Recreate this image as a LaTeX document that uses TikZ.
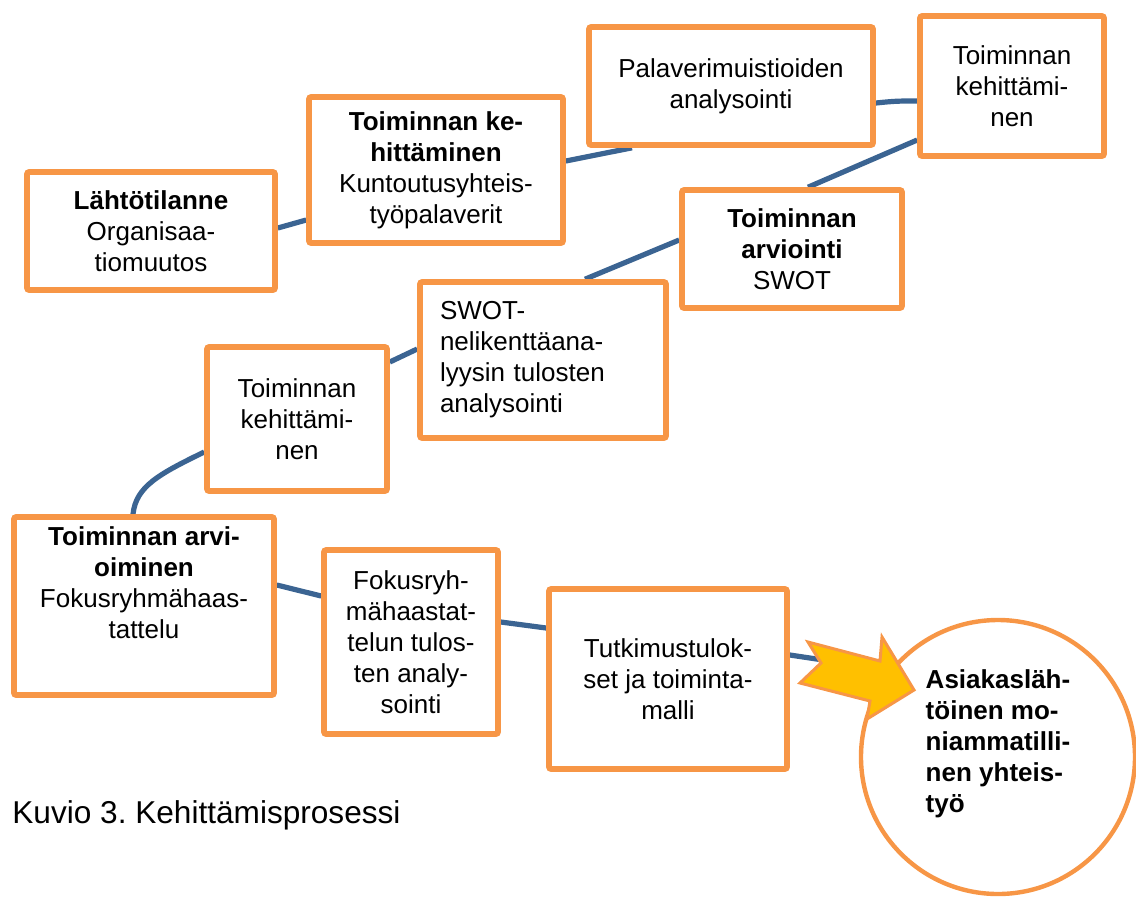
\documentclass[tikz,border=0pt]{standalone}
\usepackage{fontspec}
\setmainfont{Liberation Sans}
\usetikzlibrary{positioning,calc,backgrounds}
\definecolor{boxorange}{HTML}{F79646}
\definecolor{flowblue}{HTML}{3B6492}
\definecolor{arrowgold}{HTML}{FFC000}
\tikzset{STEP/.style={rectangle, draw=boxorange, line width=2.8pt, fill=white, rounded corners=1pt, align=center, inner sep=0pt, font=\fontsize{13}{15.5}\selectfont}}
\tikzset{FLOW/.style={draw=flowblue, line width=2.6pt}}
\tikzset{GOAL/.style={circle, draw=boxorange, line width=2.2pt, fill=white, inner sep=0pt, minimum size=137pt}}

\begin{document}
\begin{tikzpicture}[x=0.5pt, y=-0.5pt]
    \useasboundingbox (0,0) rectangle (1136,896);

    \node[STEP, minimum width=124pt, minimum height=59pt] (n_start) at (151,231) {
        \textbf{Lähtötilanne}\\ Organisaa-\\ tiomuutos
    };
    \node[STEP, minimum width=127pt, minimum height=73pt] (n_dev1) at (436,170) {
        \textbf{Toiminnan ke-}\\ \textbf{hittäminen}\\ Kuntoutusyhteis-\\ työpalaverit
    };
    \node[STEP, minimum width=142pt, minimum height=59pt] (n_memo) at (731,86) {
        Palaverimuistioiden\\ analysointi
    };
    \node[STEP, minimum width=92pt, minimum height=70pt] (n_dev2) at (1012,86) {
        Toiminnan\\ kehittämi-\\ nen
    };
    \node[STEP, minimum width=110pt, minimum height=59pt] (n_eval1) at (792,249) {
        \textbf{Toiminnan}\\ \textbf{arviointi}\\ SWOT
    };
    \node[STEP, minimum width=123pt, minimum height=78pt, text width=103pt, align=left] (n_swot) at (543,360) {
        SWOT-\\ nelikenttäana-\\ lyysin tulosten\\ analysointi
    };
    \node[STEP, minimum width=90pt, minimum height=72pt] (n_dev3) at (297,419) {
        Toiminnan\\ kehittämi-\\ nen
    };
    \node[STEP, minimum width=130pt, minimum height=89pt] (n_eval2) at (144,606) {
        \textbf{Toiminnan arvi-}\\ \textbf{oiminen}\\ Fokusryhmähaas-\\ tattelu\\[8pt]
    };
    \node[STEP, minimum width=87pt, minimum height=92pt] (n_focus) at (411,642) {
        Fokusryh-\\ mähaastat-\\ telun tulos-\\ ten analy-\\ sointi
    };
    \node[STEP, minimum width=119pt, minimum height=90pt] (n_result) at (668,679) {
        Tutkimustulok-\\ set ja toiminta-\\ malli
    };

    \node[GOAL] (n_goal) at (998,757) {};
    \node[align=left, inner sep=0pt, font=\fontsize{13}{15.5}\selectfont\bfseries] (n_goaltext) at ($(n_goal)+(0,-13)$) {
        Asiakasläh-\\ töinen mo-\\ niammatilli-\\ nen yhteis-\\ työ
    };

    % notched arrow into the goal
    \draw[fill=arrowgold, draw=boxorange, line width=1.5pt] (808,642) -- (880,661) -- (882,637) -- (914,690) -- (867,719) -- (870,701) -- (800,683) -- (821,663) -- cycle;
    \coordinate (n_arrowtail) at (830,661);

    \begin{scope}[on background layer]
        \draw[FLOW] ($(n_start.east)+(0,-3)$) -- ($(n_dev1.west)+(0,50)$);
        \draw[FLOW] ($(n_dev1.east)+(0,-9)$) -- ($(n_memo.south)+(-99,0)$);
        \draw[FLOW] ($(n_memo.east)+(0,17)$) .. controls +(20,-2) and +(-20,0) .. ($(n_dev2.west)+(0,15)$);
        \draw[FLOW] ($(n_dev2.west)+(0,54)$) -- ($(n_eval1.north)+(16,0)$);
        \draw[FLOW] ($(n_eval1.west)+(0,-9)$) -- ($(n_swot.north)+(42,0)$);
        \draw[FLOW] ($(n_swot.west)+(0,-11)$) -- ($(n_dev3.east)+(0,-57)$);
        \draw[FLOW] ($(n_dev3.west)+(0,33)$) .. controls +(-45,22) and +(3,-28) .. ($(n_eval2.north)+(-11,0)$);
        \draw[FLOW] ($(n_eval2.east)+(0,-21)$) -- ($(n_focus.west)+(0,-46)$);
        \draw[FLOW] ($(n_focus.east)+(0,-20)$) -- ($(n_result.west)+(0,-51)$);
        \draw[FLOW] ($(n_result.east)+(0,-24)$) -- (n_arrowtail);
    \end{scope}

    \node[anchor=base west, inner sep=0pt, font=\fontsize{15.8}{18}\selectfont] (n_caption) at (12,823) {Kuvio 3.\ Kehittämisprosessi};
\end{tikzpicture}
\end{document}
